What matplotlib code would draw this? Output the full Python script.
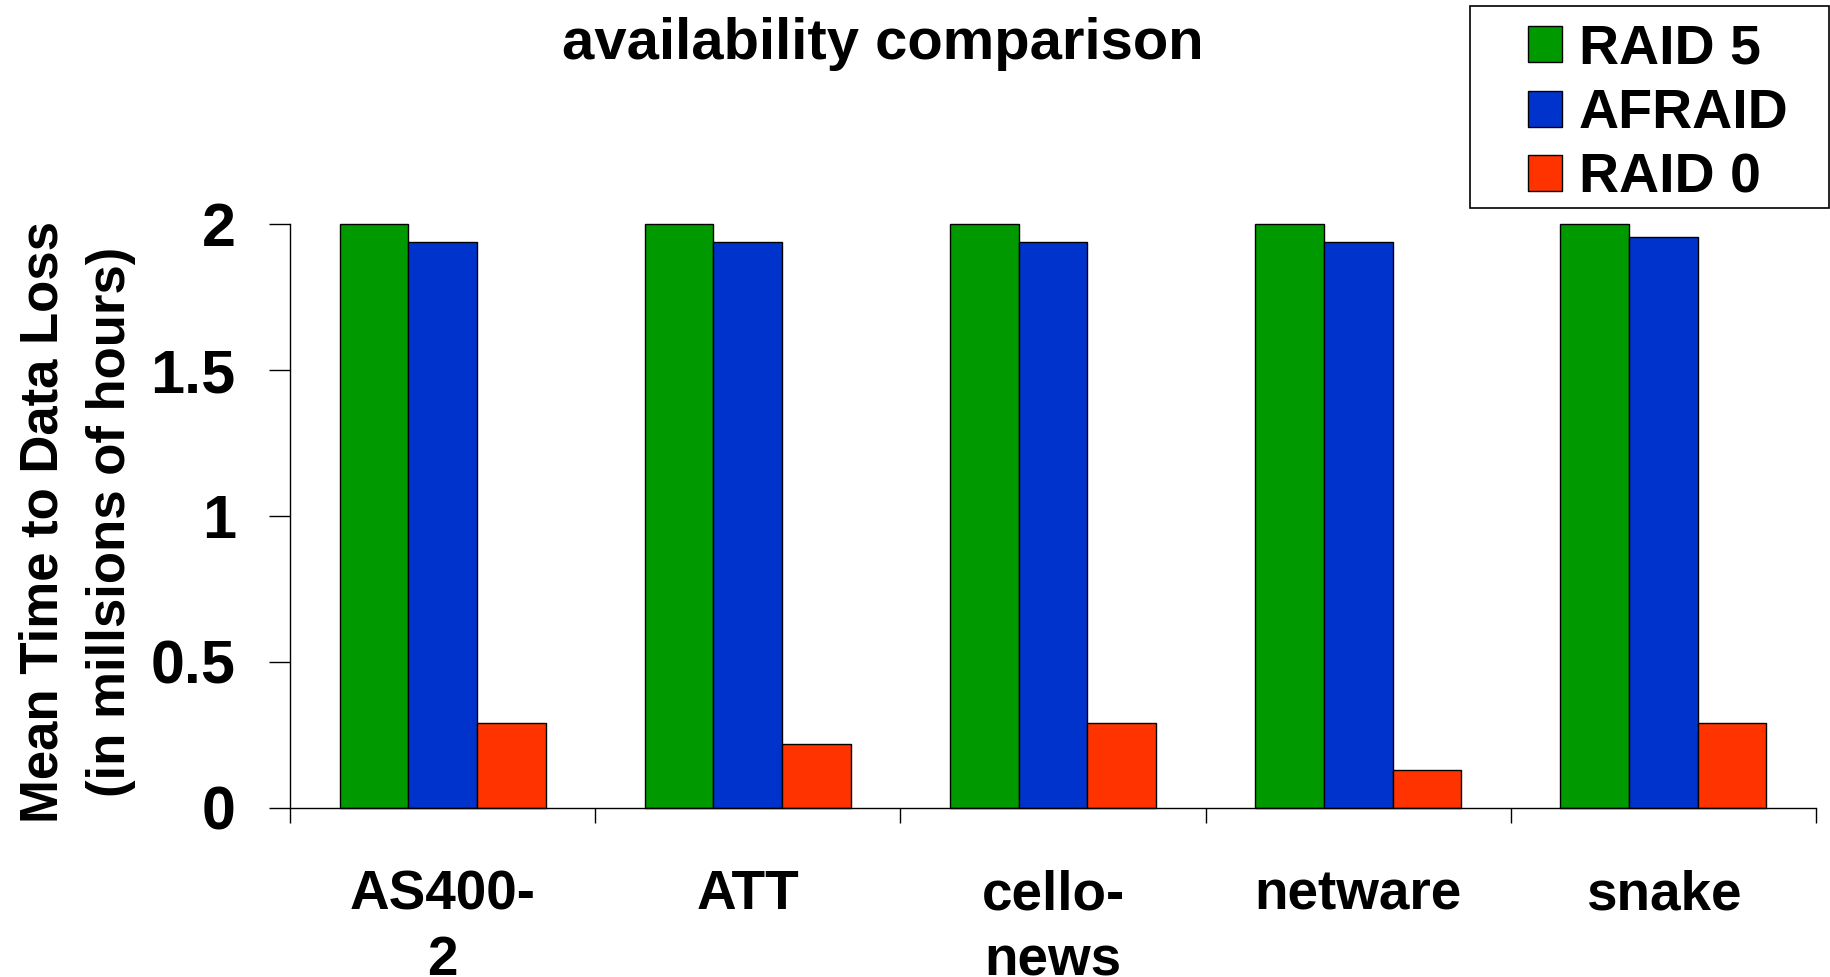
import matplotlib
matplotlib.use("Agg")
import matplotlib.pyplot as plt
import matplotlib.patches as patches
import numpy as np

plt.rcParams['font.family'] = ['Liberation Sans', 'DejaVu Sans']
plt.rcParams['font.weight'] = 'bold'

categories = ["AS400-\n2", "ATT", "cello-\nnews", "netware", "snake"]
series_names = ["RAID 5", "AFRAID", "RAID 0"]
raid5 = [2.0, 2.0, 2.0, 2.0, 2.0]
afraid = [1.94, 1.94, 1.94, 1.94, 1.955]
raid0 = [0.29, 0.22, 0.29, 0.13, 0.29]
colors = ["#009900", "#0033CC", "#FF3300"]

fig = plt.figure(figsize=(18.31, 9.77), dpi=100)
ax = fig.add_axes([0.1584, 0.173, 0.9918 - 0.1584, 0.5977])

x = np.arange(len(categories))
w = 0.225
for k, (vals, name) in enumerate(zip([raid5, afraid, raid0], series_names)):
    ax.bar(x + (k - 1) * w, vals, w, color=colors[k], edgecolor='black',
           linewidth=1.0, label=name, clip_on=False)

ax.set_xlim(-0.5, len(categories) - 0.5)
ax.set_ylim(0, 2)
ax.set_yticks([0, 0.5, 1, 1.5, 2])
ax.set_yticklabels(["0", "0.5", "1", "1.5", "2"])
ax.tick_params(axis='y', direction='out', length=15, width=1, pad=24, labelsize=44)

ax.set_xticks(np.arange(len(categories) + 1) - 0.5)
ax.set_xticklabels([])
ax.set_xticks(x, minor=True)
ax.set_xticklabels(categories, minor=True, fontsize=39.5, fontweight='bold',
                   linespacing=1.35, va='top')
ax.tick_params(axis='x', which='major', direction='out', length=11, width=1)
ax.tick_params(axis='x', which='minor', length=0, pad=44)

for s in ['top', 'right']:
    ax.spines[s].set_visible(False)
for s in ['left', 'bottom']:
    ax.spines[s].set_linewidth(1.0)

# y label as figure text (partly cut at left edge like the original)
fig.text(0.0424, 0.466, "Mean Time to Data Loss\n(in millsions of hours)",
         rotation=90, ha='center', va='center', fontsize=38,
         fontweight='bold', linespacing=1.45)

fig.text(0.482, 0.955, "availability comparison", ha='center', va='center',
         fontsize=41.8, fontweight='bold')

# legend frame drawn separately (wider padding than legend allows)
frame = patches.Rectangle((0.8028, 0.7871), 0.1961, 0.2068, transform=fig.transFigure,
                          facecolor='white', edgecolor='black', linewidth=1.2)
fig.patches.append(frame)
leg = fig.legend(loc='upper left', bbox_to_anchor=(0.8345, 0.9755),
                 fontsize=40, handlelength=0.62, handleheight=0.62,
                 handletextpad=0.3, labelspacing=0.22, borderpad=0,
                 borderaxespad=0, frameon=False)
for t in leg.get_texts():
    t.set_fontweight('bold')

fig.savefig("out.png", dpi=100)
